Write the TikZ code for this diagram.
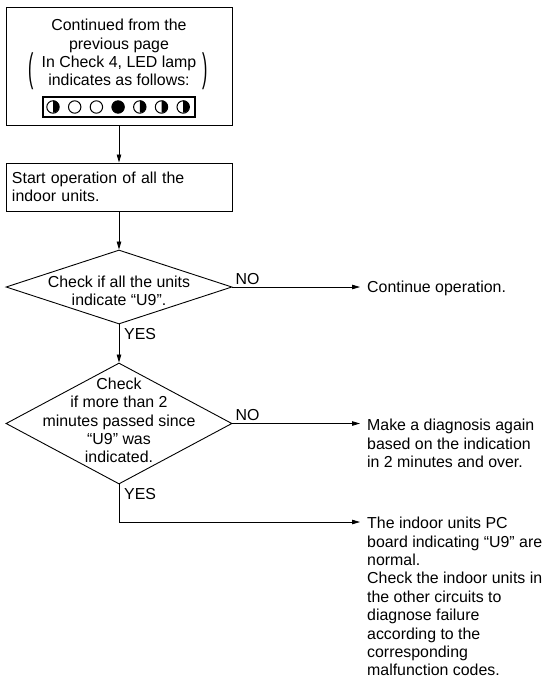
\documentclass[tikz,border=0pt]{standalone}
\usepackage{fontspec}
\setmainfont{Liberation Sans}
\usetikzlibrary{arrows.meta,positioning,calc,shapes.geometric}
\tikzset{
	box/.style={draw, line width=1pt, inner sep=0pt},
	decision/.style={draw, diamond, line width=0.9pt, inner sep=0pt},
	arrow/.style={-{Triangle[length=8pt,width=4.5pt]}, line width=0.8pt},
	tinylabel/.style={inner sep=0pt, anchor=base west},
	note/.style={align=left, anchor=north west, inner xsep=7pt, inner ysep=0pt}
}

\begin{document}
\begin{tikzpicture}[x=1pt, y=-1pt,
			every node/.style={font=\fontsize{15.9}{18.4}\selectfont},
			lamp/.style={draw, circle, line width=1pt, minimum size=12.4pt, inner sep=0pt},
			]
			\useasboundingbox (0,0) rectangle (545,678);
			
			%% -- Starting box with LED lamps
			\node[box, minimum width=226pt, minimum height=118pt] (start) at (119,66) {};
			\node[align=center, inner sep=0pt] (starttxt) at (119,52.6)
			{Continued from the\\previous page\\In Check 4, LED lamp\\indicates as follows:};
			\node[inner sep=0pt] (lpar) at (31,71.5) {\scalebox{1}[2.5]{(}};
			\node[inner sep=0pt] (rpar) at (205.5,71.5) {\scalebox{1}[2.5]{)}};
			
			\node[box, line width=1.2pt, minimum width=152pt, minimum height=20pt] (strip) at (119,107) {};
			\foreach \i in {1,...,7}
			\node[lamp] (lamp\i) at ({53+21.7*(\i-1)},107) {};
			\foreach \i in {1,5,6,7}
			\fill (lamp\i.north) arc[start angle=90, end angle=-90, radius=6.2pt] -- cycle;
			\fill (lamp4) circle[radius=6.2pt];
			
			%% -- Start operation
			\node[box, minimum width=226pt, minimum height=48pt, text width=214pt,
			inner xsep=6pt, align=left] (ops) at (119,187)
			{Start operation of all the\\indoor units.};
			
			%% -- First check
			\node[decision, minimum width=226pt, minimum height=74pt, aspect=3.05] (chk1) at (119,287) {};
			\node[align=center, inner sep=0pt] (chk1txt) at (119,291)
			{Check if all the units\\indicate “U9”.};
			
			%% -- Second check
			\node[decision, minimum width=226pt, minimum height=121pt, aspect=1.87] (chk2) at (119,423.5) {};
			\node[align=center, inner sep=0pt] (chk2txt) at (119,420.5)
			{Check\\if more than 2\\minutes passed since\\“U9” was\\indicated.};
			
			%% -- Right hand results
			\node[note] (cont) at (360,281) {Continue operation.};
			\node[note] (again) at (360,419)
			{Make a diagnosis again\\based on the indication\\in 2 minutes and over.};
			\node[note] (normal) at (360,517)
			{The indoor units PC\\board indicating “U9” are\\normal.\\Check the indoor units in\\the other circuits to\\diagnose failure\\according to the\\corresponding\\malfunction codes.};
			
			%% -- Flow arrows
			\draw[arrow] (start.south) -- (ops.north);
			\draw[arrow] (ops.south) -- (chk1.north);
			\draw[arrow] (chk1.south) -- (chk2.north);
			\draw[arrow] (chk1.east) -- (chk1.east -| cont.west);
			\draw[arrow] (chk2.east) -- (chk2.east -| again.west);
			\draw[arrow] (chk2.south) |- ([yshift=-5pt]normal.north west);
			
			%% -- Branch labels
			\node[tinylabel] (no1) at ([xshift=3pt,yshift=3pt]chk1.east) {NO};
			\node[tinylabel] (no2) at ([xshift=3pt,yshift=3pt]chk2.east) {NO};
			\node[tinylabel] (yes1) at ([xshift=5pt,yshift=-15pt]chk1.south) {YES};
			\node[tinylabel] (yes2) at ([xshift=5pt,yshift=-15pt]chk2.south) {YES};
			
		\end{tikzpicture}
\end{document}
